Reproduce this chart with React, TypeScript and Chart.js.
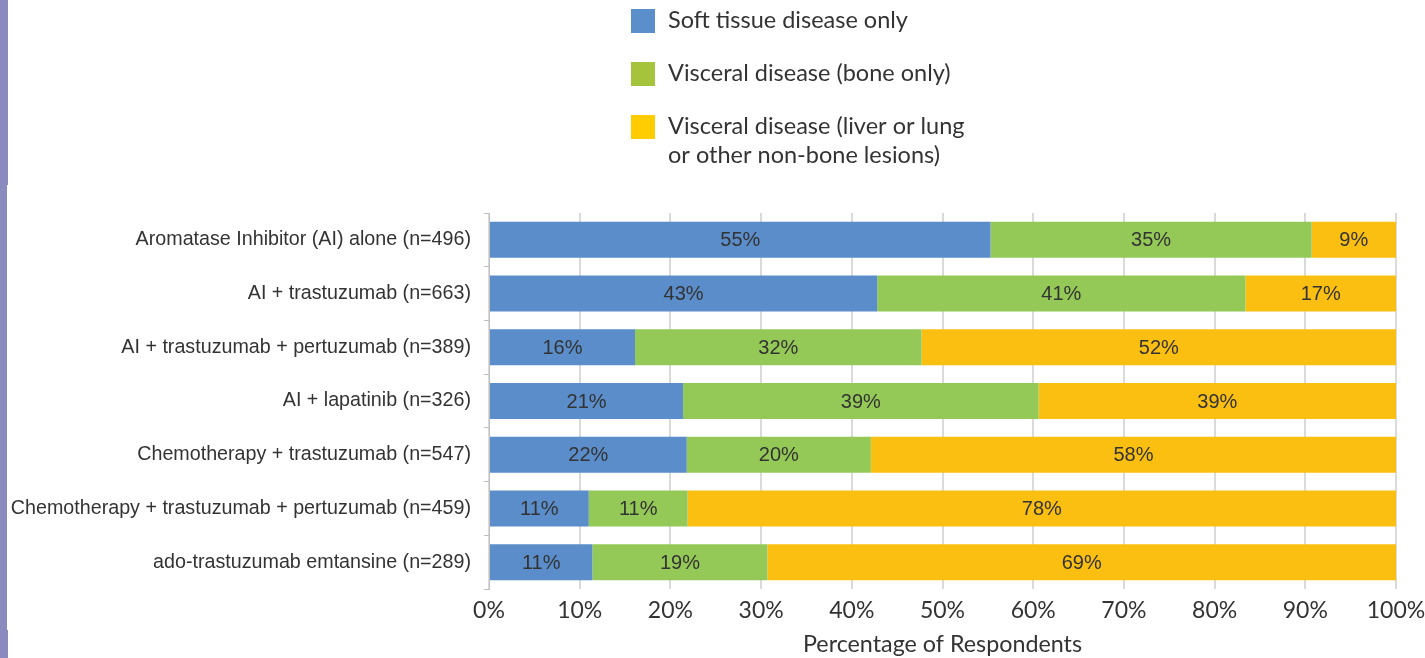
import React, { useEffect, useRef } from "react";
import { Chart, registerables } from "chart.js";

Chart.register(...registerables);

const categories = [
  "Aromatase Inhibitor (AI) alone (n=496)",
  "AI + trastuzumab (n=663)",
  "AI + trastuzumab + pertuzumab (n=389)",
  "AI + lapatinib (n=326)",
  "Chemotherapy + trastuzumab (n=547)",
  "Chemotherapy + trastuzumab + pertuzumab (n=459)",
  "ado-trastuzumab emtansine (n=289)",
];

const softTissue = [55.3, 42.8, 16.1, 21.4, 21.8, 11.0, 11.4];
const boneOnly = [35.4, 40.6, 31.6, 39.2, 20.3, 10.9, 19.3];
const liverLung = [9.3, 16.6, 52.3, 39.4, 57.9, 78.1, 69.3];

const seriesNames = [
  "Soft tissue disease only",
  "Visceral disease (bone only)",
  "Visceral disease (liver or lung\nor other non-bone lesions)",
];

const xTickValues = [0, 10, 20, 30, 40, 50, 60, 70, 80, 90, 100];
const xTitle = "Percentage of Respondents";

const barColors = ["#5a8dc9", "#94c857", "#fbbf12"];
const legendColors = ["#5b8fcb", "#a5c43b", "#ffcc00"];

const GEO = "Lato, 'Open Sans', sans-serif";
const ARIAL = "'Liberation Sans', Arial, sans-serif";

const decorPlugin = {
  id: "decor",
  beforeDraw(chart: any) {
    const ctx = chart.ctx;
    ctx.save();
    ctx.fillStyle = "#ffffff";
    ctx.fillRect(0, 0, chart.width, chart.height);
    ctx.fillStyle = "#8a8abf";
    ctx.fillRect(0, 0, 8, 185);
    ctx.fillRect(0, 185, 7, 445);
    ctx.fillRect(0, 630, 8, 28);
    ctx.restore();
  },
  afterDraw(chart: any) {
    const ctx = chart.ctx;
    ctx.save();
    const tops = [9, 62, 115];
    ctx.font = `23.5px ${GEO}`;
    ctx.textBaseline = "alphabetic";
    ctx.textAlign = "left";
    seriesNames.forEach((name, i) => {
      ctx.fillStyle = legendColors[i];
      ctx.fillRect(631, tops[i], 24, 24);
      ctx.fillStyle = "#333333";
      name.split("\n").forEach((line, j) => {
        ctx.fillText(line, 668, tops[i] + 19 + j * 29);
      });
    });
    // data labels
    ctx.font = `20px ${ARIAL}`;
    ctx.fillStyle = "#333333";
    ctx.textAlign = "center";
    ctx.textBaseline = "middle";
    chart.data.datasets.forEach((ds: any, di: number) => {
      const meta = chart.getDatasetMeta(di);
      meta.data.forEach((bar: any, i: number) => {
        const v = ds.data[i];
        const p = bar.getProps(["x", "y", "base"], true);
        const cx = (p.x + p.base) / 2;
        ctx.fillText(Math.round(v) + "%", cx, p.y + 1);
      });
    });
    ctx.restore();
  },
};

export default function App() {
  const ref = useRef<HTMLCanvasElement>(null);
  useEffect(() => {
    if (!ref.current) return;
    const chart = new Chart(ref.current, {
      type: "bar",
      data: {
        labels: categories,
        datasets: [
          { label: seriesNames[0], data: softTissue, backgroundColor: barColors[0] },
          { label: seriesNames[1], data: boneOnly, backgroundColor: barColors[1] },
          { label: seriesNames[2], data: liverLung, backgroundColor: barColors[2] },
        ],
      },
      options: {
        indexAxis: "y",
        responsive: false,
        animation: false,
        layout: { padding: { left: 0, right: 29, top: 213, bottom: 0 } },
        datasets: {
          bar: { categoryPercentage: 1, barPercentage: 0.67, borderWidth: 0 },
        },
        plugins: {
          legend: { display: false },
          tooltip: { enabled: false },
        },
        scales: {
          x: {
            stacked: true,
            min: 0,
            max: 100,
            afterBuildTicks(scale: any) {
              scale.ticks = xTickValues.map((v) => ({ value: v }));
            },
            afterFit(scale: any) {
              scale.height = 69;
              scale.paddingLeft = 0;
              scale.paddingRight = 0;
            },
            border: { display: false },
            grid: { color: "#dadada", lineWidth: 2, drawTicks: false },
            ticks: {
              padding: 8,
              color: "#333333",
              font: { family: GEO, size: 23 },
              callback: (v: any) => v + "%",
            },
            title: {
              display: true,
              text: xTitle,
              color: "#333333",
              font: { family: GEO, size: 23.3 },
              padding: { top: 0, bottom: 0 },
            },
          },
          y: {
            stacked: true,
            afterFit(scale: any) {
              scale.width = 489;
              scale.paddingTop = 0;
              scale.paddingBottom = 0;
            },
            border: { display: true, color: "#bfbfbf", width: 1 },
            grid: {
              offset: true,
              drawOnChartArea: false,
              tickLength: 5,
              color: "#bfbfbf",
            },
            ticks: {
              padding: 13,
              color: "#333333",
              font: { family: ARIAL, size: 19.7 },
            },
          },
        },
      },
      plugins: [decorPlugin],
    });
    return () => chart.destroy();
  }, []);
  return (
    <div style={{ position: "fixed", left: 0, top: 0, width: 1425, height: 658 }}>
      <canvas ref={ref} width={1425} height={658} style={{ display: "block" }} />
    </div>
  );
}
